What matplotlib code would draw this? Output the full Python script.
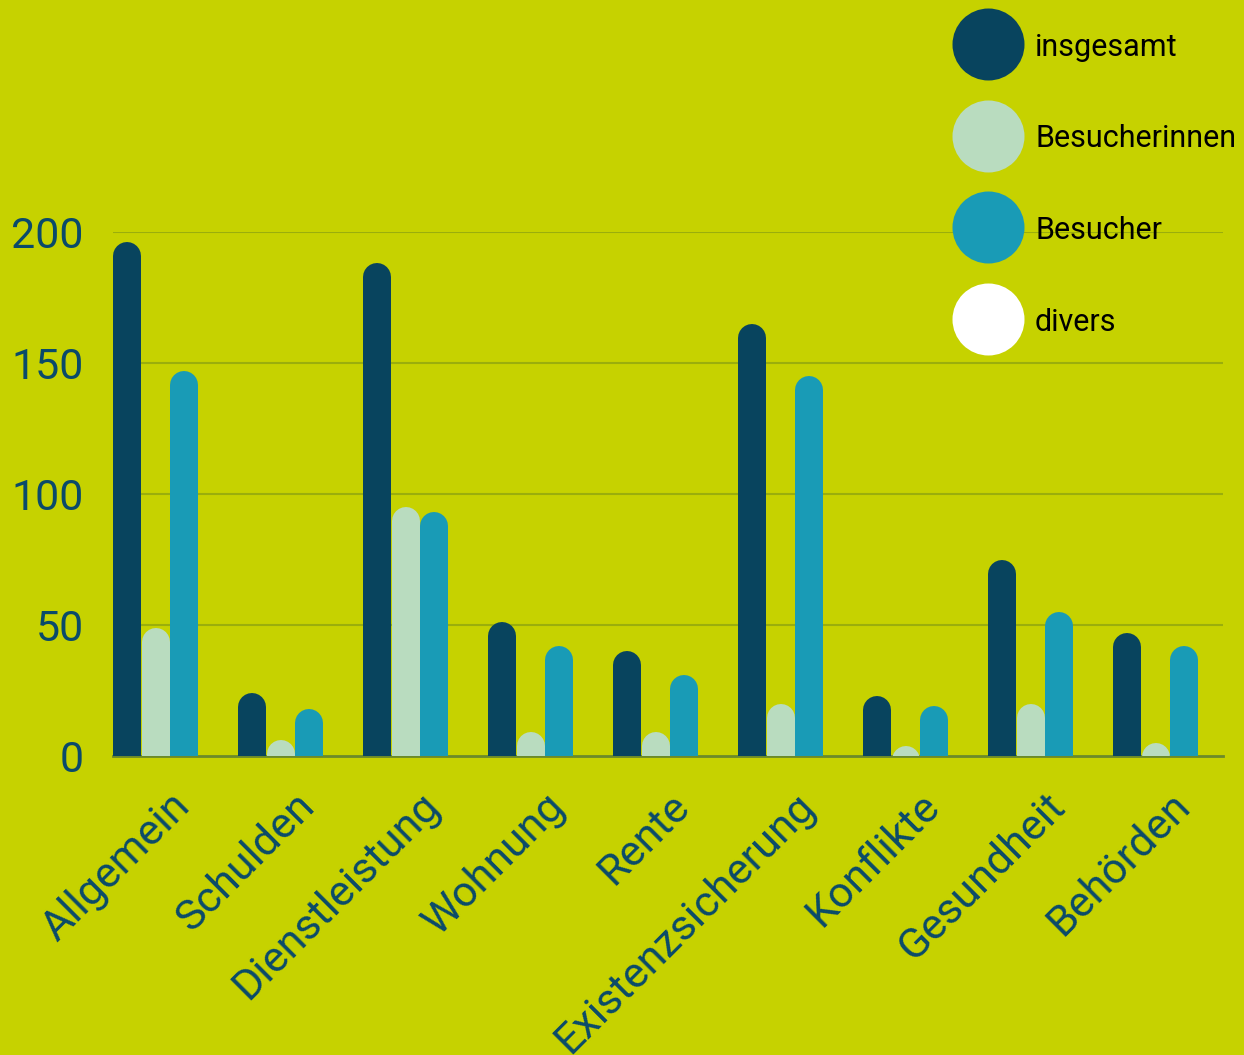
import matplotlib
matplotlib.use("Agg")
import matplotlib.pyplot as plt
from matplotlib.lines import Line2D
import matplotlib.transforms as mtransforms

categories = ["Allgemein", "Schulden", "Dienstleistung", "Wohnung", "Rente",
              "Existenzsicherung", "Konflikte", "Gesundheit", "Behörden"]
insgesamt = [196, 24, 188, 51, 40, 165, 23, 75, 47]
besucherinnen = [49, 6, 95, 9, 9, 20, 4, 20, 5]
besucher = [147, 18, 93, 42, 31, 145, 19, 55, 42]
divers = [0, 0, 0, 0, 0, 0, 0, 0, 0]

series_names = ["insgesamt", "Besucherinnen", "Besucher", "divers"]
series_values = [insgesamt, besucherinnen, besucher, divers]
series_colors = ["#08445e", "#b9dcbf", "#199bb6", "#ffffff"]
yticks = [0, 50, 100, 150, 200]

BG = "#c6d200"
GRID = "#9aae0c"
BASE = "#6b8a2a"
TXT = "#0a4a6a"

plt.rcParams["font.family"] = ["Roboto", "DejaVu Sans"]

DPI = 100
fig = plt.figure(figsize=(12.44, 10.55), dpi=DPI, facecolor=BG)
ax = fig.add_axes([113 / 1244, 1 - 756 / 1055, (1223 - 113) / 1244, (756 - 232) / 1055])
ax.set_facecolor(BG)

step = 0.228
bar_px = 28.0
lw_pt = bar_px * 72 / DPI
r_in = (bar_px / 2) / DPI
shift = mtransforms.ScaledTranslation(0, -r_in, fig.dpi_scale_trans)

for j, (vals, col) in enumerate(zip(series_values, series_colors)):
    for i, v in enumerate(vals):
        x = i + j * step + step / 2
        ax.plot([x, x], [0, v], color=col, lw=lw_pt, solid_capstyle="round",
                transform=ax.transData + shift, zorder=3, clip_on=True)

ax.set_xlim(0, 8.88)
ax.set_ylim(0, 200)
for y in yticks[1:]:
    ax.axhline(y, color=GRID, lw=1.5, zorder=1)
ax.axhline(0, color=BASE, lw=2, zorder=2, clip_on=False)

for s in ax.spines.values():
    s.set_visible(False)

ax.set_yticks(yticks)
ax.set_yticklabels([str(t) for t in yticks])
ax.tick_params(axis="y", length=0, pad=21, labelsize=31, labelcolor=TXT)

ax.set_xticks([i + 2 * step + 0.225 for i in range(len(categories))])
ax.set_xticklabels(categories, rotation=45, ha="right", va="top")
ax.tick_params(axis="x", length=0, pad=21, labelsize=31, labelcolor=TXT)

# legend
for k, (name, col) in enumerate(zip(series_names, series_colors)):
    yc = 1 - (44 + k * 91.7) / 1055
    fig.add_artist(Line2D([988 / 1244], [yc], marker="o", markersize=72 * 72 / DPI,
                          color=col, markeredgewidth=0, linestyle="none",
                          transform=fig.transFigure))
    fig.text(1035 / 1244, yc, name, va="center_baseline", ha="left",
             fontsize=22, color="black")

fig.savefig("out.png", dpi=DPI, facecolor=BG)
